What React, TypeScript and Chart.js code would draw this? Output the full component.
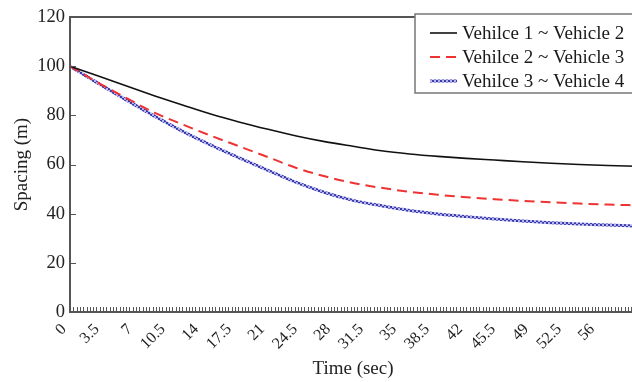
import React, { useEffect, useRef } from "react";
import { Chart, registerables } from "chart.js";

Chart.register(...registerables);

// ---- data ----
const timeSec = [0, 3, 6, 9, 12, 15, 18, 21, 24, 27, 30, 33, 36, 39, 42, 45, 48, 51, 54, 57, 60];
const vehicle12 = [100, 96, 91.9, 87.9, 84.1, 80.4, 77.2, 74.3, 71.6, 69.3, 67.4, 65.6, 64.3, 63.3, 62.5, 61.8, 61.1, 60.5, 60.0, 59.6, 59.3];
const vehicle23 = [100, 93.2, 87.0, 81.0, 76.2, 71.6, 67.3, 63.0, 58.6, 55.2, 52.5, 50.5, 48.9, 47.7, 46.7, 45.9, 45.2, 44.6, 44.1, 43.7, 43.4];
const vehicle34 = [100, 93.0, 86.2, 79.6, 73.4, 67.8, 62.6, 57.6, 52.7, 48.6, 45.4, 43.2, 41.3, 39.9, 38.8, 37.8, 37.0, 36.3, 35.8, 35.4, 35.0];
const seriesLabels = ["Vehilce 1 ~ Vehicle 2", "Vehilce 2 ~ Vehicle 3", "Vehilce 3 ~ Vehicle 4"];
const xTickLabels = ["0", "3.5", "7", "10.5", "14", "17.5", "21", "24.5", "28", "31.5", "35", "38.5", "42", "45.5", "49", "52.5", "56"];
const xLabelStep = 3.5;
const xMinorPerLabel = 10;
const xMin = 0;
const xMax = 60;
const yMin = 0;
const yMax = 120;
const yStep = 20;

const FONT = "'Liberation Serif', 'Times New Roman', serif";

function makeBluePattern(): CanvasPattern | string {
  const c = document.createElement("canvas");
  c.width = 4;
  c.height = 4;
  const g = c.getContext("2d");
  if (!g) return "#5555cc";
  g.fillStyle = "#b4b4ee";
  g.fillRect(0, 0, 4, 4);
  g.fillStyle = "#3a3aaa";
  g.fillRect(0, 0, 2, 2);
  g.fillRect(2, 2, 2, 2);
  const p = g.createPattern(c, "repeat");
  return p || "#5555cc";
}

const framePlugin = {
  id: "frameAndLegend",
  afterDraw(chart: any) {
    const { ctx, chartArea: a, scales } = chart;
    const xs = scales.x;
    const ys = scales.y;
    ctx.save();
    // inward ticks
    ctx.strokeStyle = "#555";
    ctx.lineWidth = 1;
    ctx.beginPath();
    xs.ticks.forEach((t: any) => {
      const px = Math.round(xs.getPixelForValue(t.value)) + 0.5;
      ctx.moveTo(px, a.bottom);
      ctx.lineTo(px, a.bottom - 5);
    });
    ys.ticks.forEach((t: any) => {
      const py = Math.round(ys.getPixelForValue(t.value)) + 0.5;
      ctx.moveTo(a.left, py);
      ctx.lineTo(a.left + 6, py);
    });
    ctx.stroke();
    // top frame
    ctx.lineWidth = 2;
    ctx.strokeStyle = "#555";
    ctx.beginPath();
    ctx.moveTo(a.left, a.top);
    ctx.lineTo(chart.width + 2, a.top);
    ctx.stroke();

    // legend box
    const bx = a.right - 221;
    const by = a.top - 3;
    const bw = 260;
    const bh = 79;
    ctx.fillStyle = "#fff";
    ctx.fillRect(bx, by, bw, bh);
    ctx.strokeStyle = "#777";
    ctx.lineWidth = 1.5;
    ctx.strokeRect(bx, by, bw, bh);
    ctx.font = `19px ${FONT}`;
    ctx.textBaseline = "middle";
    ctx.textAlign = "left";
    chart.data.datasets.forEach((ds: any, i: number) => {
      const cy = by + 19 + i * 24;
      ctx.save();
      ctx.strokeStyle = ds.borderColor;
      ctx.lineWidth = ds.borderWidth;
      ctx.setLineDash(ds.borderDash || []);
      ctx.beginPath();
      ctx.moveTo(bx + 15, cy);
      ctx.lineTo(bx + 42, cy);
      ctx.stroke();
      ctx.restore();
      ctx.fillStyle = "#1a1a1a";
      ctx.fillText(ds.label, bx + 47, cy + 1);
    });
    ctx.restore();
  },
};

export default function App() {
  const ref = useRef<HTMLCanvasElement | null>(null);

  useEffect(() => {
    document.body.style.margin = "0";
    const canvas = ref.current;
    if (!canvas) return;
    const toPts = (vals: number[]) => timeSec.map((t, i) => ({ x: t, y: vals[i] }));
    const chart = new Chart(canvas, {
      type: "line",
      data: {
        datasets: [
          {
            label: seriesLabels[0],
            data: toPts(vehicle12),
            borderColor: "#111111",
            borderWidth: 1.6,
            pointRadius: 0,
            cubicInterpolationMode: "monotone",
          },
          {
            label: seriesLabels[1],
            data: toPts(vehicle23),
            borderColor: "#ee3333",
            borderWidth: 2,
            borderDash: [10, 6],
            pointRadius: 0,
            cubicInterpolationMode: "monotone",
          },
          {
            label: seriesLabels[2],
            data: toPts(vehicle34),
            borderColor: makeBluePattern() as any,
            borderWidth: 3,
            pointRadius: 0,
            cubicInterpolationMode: "monotone",
          },
        ],
      },
      options: {
        animation: false,
        responsive: false,
        maintainAspectRatio: false,
        layout: { padding: { top: 17, right: 4, left: 0, bottom: 0 } },
        plugins: {
          legend: { display: false },
          tooltip: { enabled: false },
        },
        scales: {
          x: {
            type: "linear",
            min: xMin,
            max: xMax,
            afterBuildTicks: (scale: any) => {
              const minorStep = xLabelStep / xMinorPerLabel;
              const count = Math.floor((xMax - xMin) / minorStep + 1e-6);
              const ticks = [];
              for (let i = 0; i <= count; i++) ticks.push({ value: xMin + i * minorStep });
              scale.ticks = ticks;
            },
            afterFit: (scale: any) => {
              scale.height = 70;
              scale.paddingLeft = 0;
              scale.paddingRight = 0;
            },
            ticks: {
              autoSkip: false,
              minRotation: 45,
              maxRotation: 45,
              padding: 8,
              labelOffset: -6,
              color: "#222",
              font: { family: FONT, size: 16 },
              callback: (_v: any, i: number) =>
                i % xMinorPerLabel === 0 ? xTickLabels[i / xMinorPerLabel] ?? "" : "",
            },
            grid: { display: false, drawTicks: false },
            border: { display: true, color: "#555", width: 2 },
            title: {
              display: true,
              text: "Time (sec)",
              color: "#222",
              font: { family: FONT, size: 19 },
              padding: { top: 0, bottom: 2 },
            },
          },
          y: {
            type: "linear",
            min: yMin,
            max: yMax,
            afterFit: (scale: any) => {
              scale.width = 70;
              scale.paddingTop = 0;
              scale.paddingBottom = 0;
            },
            ticks: {
              stepSize: yStep,
              padding: 5,
              color: "#222",
              font: { family: FONT, size: 18.5 },
            },
            grid: { display: false, drawTicks: false },
            border: { display: true, color: "#555", width: 2 },
            title: {
              display: true,
              text: "Spacing (m)",
              color: "#222",
              font: { family: FONT, size: 19 },
              padding: { top: 11, bottom: 0 },
            },
          },
        },
      },
      plugins: [framePlugin],
    });
    return () => chart.destroy();
  }, []);

  return (
    <div style={{ width: 632, height: 382, overflow: "hidden" }}>
      <canvas ref={ref} width={640} height={382} style={{ display: "block" }} />
    </div>
  );
}
